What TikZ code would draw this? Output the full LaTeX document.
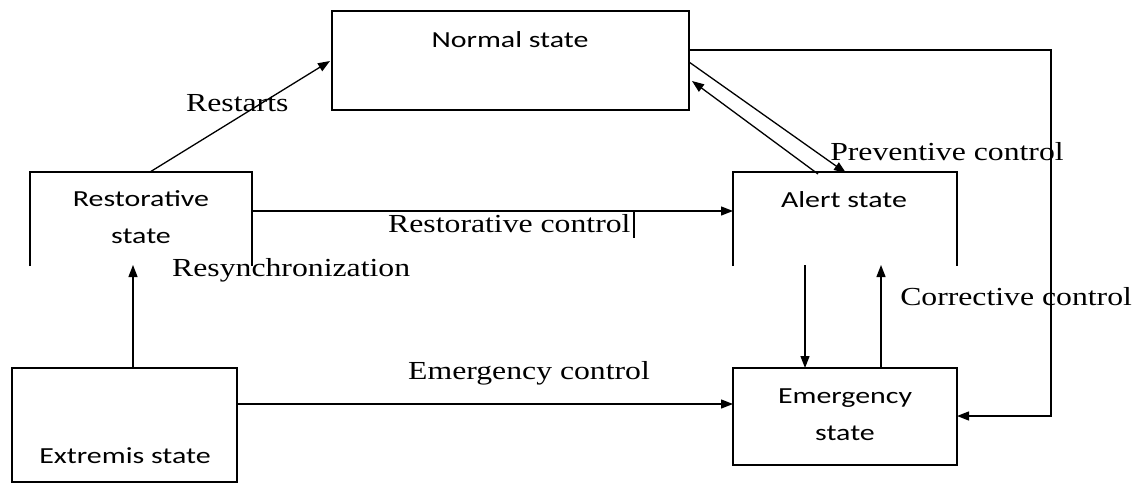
\documentclass[tikz,border=0pt]{standalone}
\usepackage{fontspec}
\setmainfont{Liberation Serif}
\newfontfamily\boxfont{Carlito}
\usetikzlibrary{arrows.meta}
\tikzset{
  lbl/.style={font=\fontsize{26}{28}\selectfont, inner sep=0pt, anchor=west, xscale=1.22},
  btxt/.style={font=\boxfont\fontsize{23}{37}\selectfont, inner sep=0pt, align=center, xscale=1.3},
  ln/.style={line width=1.3pt},
  arr/.style={line width=1.3pt, -{Triangle[length=12pt,width=9pt]}},
}
\begin{document}
\begin{tikzpicture}[x=1pt,y=-1pt]
\useasboundingbox (0,0) rectangle (1140,484);
% boxes
\draw[ln] (332,11) rectangle (689,110);
\node[btxt] (normal) at (510,40) {Normal state};
\draw[ln] (30,266) -- (30,172) -- (252,172) -- (252,266);
\node[btxt] (restor) at (141,217) {Restorative\\state};
\draw[ln] (733,266) -- (733,172) -- (957,172) -- (957,266);
\node[btxt] (alert) at (844,200) {Alert state};
\draw[ln] (12,368) rectangle (237,482);
\node[btxt] (extrem) at (125,456) {Extremis state};
\draw[ln] (733,368) rectangle (957,465);
\node[btxt] (emerg) at (845,415) {Emergency\\state};
% coordinates
\coordinate (rsTop) at (150,172);
\coordinate (nmL) at (330,61);
\coordinate (nmR1) at (689,62);
\coordinate (alT1) at (846,173);
\coordinate (alT2) at (818,174);
\coordinate (nmR2) at (692,81);
\coordinate (rsR) at (252,211);
\coordinate (alL) at (733,211);
\coordinate (exT) at (133,368);
\coordinate (rsB) at (133,265);
\coordinate (exR) at (237,404);
\coordinate (emL) at (733,404);
\coordinate (alB1) at (805,265);
\coordinate (emT1) at (805,368);
\coordinate (emT2) at (881,368);
\coordinate (alB2) at (881,265);
\coordinate (nmR3) at (689,50);
\coordinate (c1) at (1051,50);
\coordinate (c2) at (1051,416);
\coordinate (emR) at (957,416);
% connectors
\draw[arr] (rsTop) -- (nmL);
\draw[arr] (nmR1) -- (alT1);
\draw[arr] (alT2) -- (nmR2);
\draw[arr] (rsR) -- (alL);
\draw[arr] (exT) -- (rsB);
\draw[arr] (exR) -- (emL);
\draw[arr] (alB1) -- (emT1);
\draw[arr] (emT2) -- (alB2);
\draw[arr] (nmR3) -- (c1) -- (c2) -- (emR);
% labels
\node[lbl] (lrestarts) at (186,103) {Restarts};
\node[lbl] (lprev) at (830,152) {Preventive control};
\node[lbl] (lrestc) at (388,224) {Restorative control};
\draw[line width=2.5pt] (634,212) -- (634,238);
\node[lbl] (lresync) at (172,270) {Resynchronization};
\node[lbl] (lemc) at (408,373) {Emergency control};
\node[lbl] (lcorr) at (900,297) {Corrective control};
\end{tikzpicture}
\end{document}
